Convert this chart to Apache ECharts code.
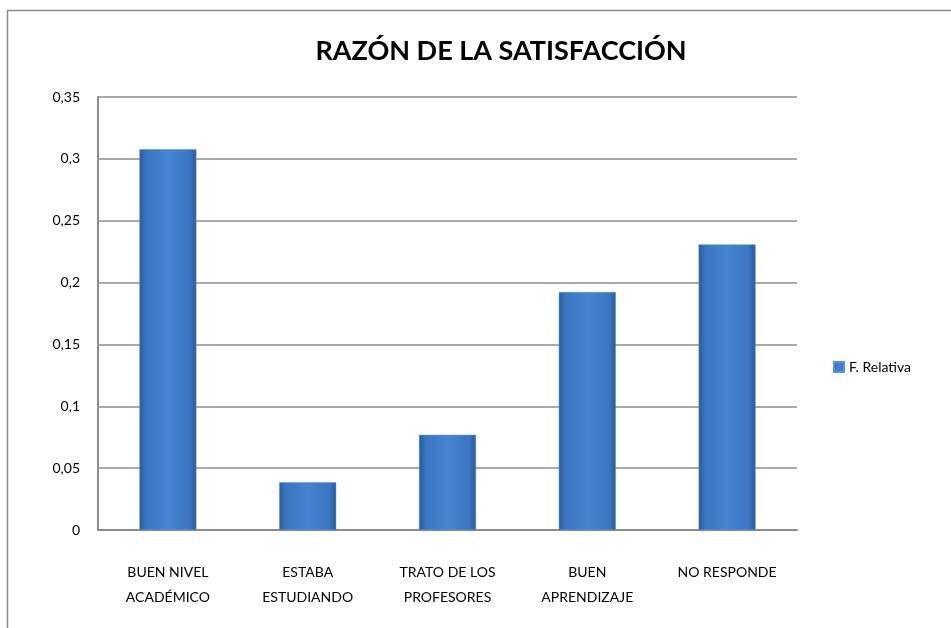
<!DOCTYPE html>
<html><head><meta charset="utf-8">
<script src="https://cdn.jsdelivr.net/npm/echarts@6/dist/echarts.min.js"></script>
<style>html,body{margin:0;padding:0;background:#fff}#c{width:951px;height:628px}</style>
</head><body><div id="c"></div>
<script>
const categories = ['BUEN NIVEL\nACADÉMICO', 'ESTABA\nESTUDIANDO', 'TRATO DE LOS\nPROFESORES', 'BUEN\nAPRENDIZAJE', 'NO RESPONDE\n '];
const values = [0.3077, 0.0385, 0.0769, 0.1923, 0.2308];
const seriesName = 'F. Relativa';
const yTicks = [0, 0.05, 0.1, 0.15, 0.2, 0.25, 0.3, 0.35];
const font = 'Lato,"Open Sans",sans-serif';
const chart = echarts.init(document.getElementById('c'));
chart.setOption({
  animation: false,
  backgroundColor: '#fff',
  graphic: [{type:'rect', shape:{x:7.5,y:10.5,width:1000,height:700}, style:{fill:'none', stroke:'#8c8c8c', lineWidth:1.5}}],
  title: {text:'RAZÓN DE LA SATISFACCIÓN', left:496, textAlign:'center', top:33,
    textStyle:{fontFamily:font, fontWeight:'bold', fontSize:27, color:'#000'}},
  legend: {left:828, top:355, itemWidth:10, itemHeight:10, itemGap:6, orient:'vertical',
    textStyle:{fontFamily:font, fontSize:14, color:'#000'}, data:[{name:seriesName, icon:'rect'}]},
  grid: {left:98, top:97, width:699, height:433, containLabel:false},
  xAxis: {type:'category', data:categories,
    axisLine:{show:true, lineStyle:{color:'#8c8c8c', width:2}},
    axisTick:{show:false},
    axisLabel:{margin:30, fontFamily:font, fontSize:14, color:'#000', lineHeight:25, interval:0}},
  yAxis: {type:'value', min:0, max:0.35, interval:0.05,
    axisLine:{show:true, lineStyle:{color:'#8c8c8c', width:2}},
    axisTick:{show:false},
    splitLine:{lineStyle:{color:'#8c8c8c', width:1.5}},
    axisLabel:{margin:18, fontFamily:font, fontSize:14, color:'#000',
      formatter:v=>{const t=yTicks.find(x=>Math.abs(x-v)<1e-9); return String(+(t??v).toFixed(2)).replace('.',',');}}},
  series: [{type:'bar', name:seriesName, data:values, barWidth:57,
    itemStyle:{color:new echarts.graphic.LinearGradient(0,0,1,0,[
      {offset:0,color:'#2b5a96'},{offset:0.12,color:'#3b76c2'},{offset:0.5,color:'#4584d1'},{offset:0.88,color:'#3b76c2'},{offset:1,color:'#2b5a96'}]),
      borderColor:'#5b93d8', borderWidth:0.5}}]
});
</script></body></html>
